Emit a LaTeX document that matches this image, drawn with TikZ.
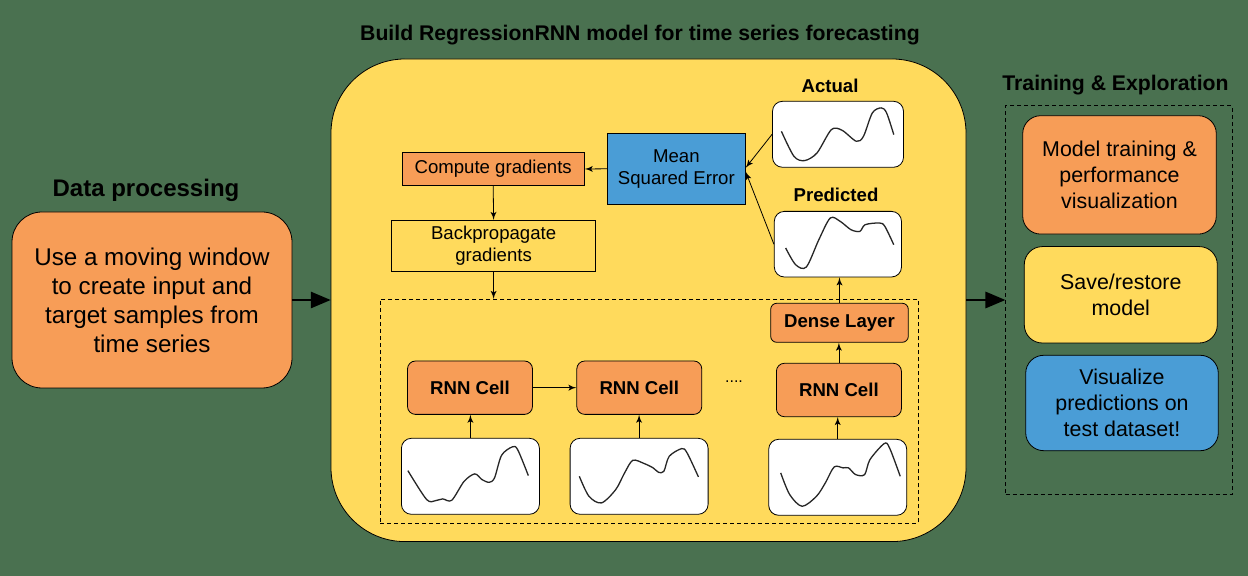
\documentclass[tikz,border=0pt]{standalone}
\usepackage{fontspec}
\setmainfont{Liberation Sans}
\usepackage{tikz}
\usetikzlibrary{positioning}
\usetikzlibrary{shapes.geometric, arrows}
\usetikzlibrary{calc}
\definecolor{bggreen}{HTML}{4A7150}
\definecolor{yellowbox}{HTML}{FFDA5C}
\definecolor{orangebox}{HTML}{F79D57}
\definecolor{bluebox}{HTML}{4A9DD6}
\tikzstyle{arrow}=[->,>=latex',thin]
\tikzstyle{bigarrow}=[->,>=triangle 45,line width=1.3pt]
\tikzstyle{title}=[font=\bfseries\fontsize{10.6}{12}\selectfont]
\tikzstyle{small}=[font=\fontsize{9.3}{11}\selectfont,align=center,inner sep=0pt]
\tikzstyle{smallbold}=[font=\bfseries\fontsize{9.3}{11}\selectfont,inner sep=0pt]
\tikzstyle{bigtext}=[font=\fontsize{10.7}{13}\selectfont,align=center,inner sep=0pt]
\tikzstyle{plotbox}=[draw,fill=white,rounded corners=5pt,thin,inner sep=0pt]
\tikzstyle{dashbox}=[draw,thin,dash pattern=on 2pt off 1.5pt,inner sep=0pt]
\tikzstyle{curve}=[draw=black!85,line width=0.65pt]

\begin{document}
\begin{tikzpicture}[x=0.5pt,y=-0.5pt]
		\useasboundingbox (0,0) rectangle (1248,576);
		\fill[bggreen] (0,0) rectangle (1248,576);
		% data processing
		\node[font=\bfseries\fontsize{12}{14}\selectfont] (tdata) at (146,190) {Data processing};
		\node[draw,thin,fill=orangebox,rounded corners=15pt,minimum width=140pt,minimum height=88pt,
			align=center,font=\fontsize{12.1}{14.5}\selectfont] (data) at (152,300)
			{Use a moving window\\to create input and\\target samples from\\time series};
		% model
		\node[title] (tmain) at (640,35) {Build RegressionRNN model for time series forecasting};
		\node[draw,thin,fill=yellowbox,rounded corners=37pt,minimum width=317.5pt,minimum height=241.3pt] (main) at (648.5,300.3) {};
		\node[dashbox,minimum width=269.1pt,minimum height=112pt] (inner) at (649.1,411.3) {};
		\node[small,draw,fill=orangebox,minimum width=91.1pt,minimum height=16.7pt] (grad) at (493.2,169) {Compute gradients};
		\node[small,draw,fill=bluebox,minimum width=68.9pt,minimum height=35.5pt] (mse) at (676.4,168.8) {Mean\\Squared Error};
		\node[small,draw,fill=yellowbox,minimum width=102.1pt,minimum height=25.5pt] (back) at (493.6,245.8) {Backpropagate\\gradients};
		\node[smallbold] (tact) at (830,86) {Actual};
		\node[plotbox,minimum width=65.5pt,minimum height=33pt] (act) at (838,134.3) {};
		\node[smallbold] (tpred) at (836,195) {Predicted};
		\node[plotbox,minimum width=63.6pt,minimum height=32.8pt] (pred) at (837.9,244.2) {};
		\node[smallbold,draw,fill=orangebox,rounded corners=3pt,minimum width=68.8pt,minimum height=19.5pt] (dense) at (839.5,322.8) {Dense Layer};
		\foreach \n/\x/\y in {1/470/387.7,2/639.3/387.7,3/838.9/390} {
			\node[smallbold,draw,fill=orangebox,rounded corners=4pt,minimum width=62.5pt,minimum height=26.7pt] (cell\n) at (\x,\y) {RNN Cell};}
		\foreach \n/\x/\y in {1/470.4/476.3,2/639.1/476.3,3/837.7/477.3} {
			\node[plotbox,minimum width=69pt,minimum height=38pt] (p\n) at (\x,\y) {};}
		\node[font=\fontsize{8}{9}\selectfont] (dots) at (734,382) {....};
		% curves
		\draw[curve,shift={(act.north west)},xscale=1.07] plot[smooth] coordinates {(8.7,30.4)(20.4,55.4)(30.4,59.7)(42,52)(55.4,28.7)(65.4,29.4)(78.7,40.4)(85.4,35.4)(93.7,12)(102,7)(107,12)(113.7,33.7)};
		\draw[curve,shift={(pred.north west)},xscale=1.07] plot[smooth] coordinates {(11,37)(20.3,53.7)(30.3,56)(42,28.7)(52.7,7)(62,10.4)(72,18.7)(80.3,20.4)(85.3,13.7)(98.7,12)(103.7,15.4)(112,33.7)};
		\draw[curve,shift={(p1.north west)},xscale=1.07] plot[smooth] coordinates {(6.4,32.7)(24,61.7)(32.4,62.7)(39,61)(47.4,62.4)(59,43.4)(69,36)(75.7,41.7)(82.4,44.4)(87.4,40)(94,17.4)(104,9)(109,11.7)(119,37.7)};
		\draw[curve,shift={(p2.north west)},xscale=1.07] plot[smooth] coordinates {(9,38.4)(18,58.4)(29.7,65)(43,51.7)(51.3,35)(59,22.4)(69.7,25.7)(78,30)(83,34.4)(88,33.4)(93,18.4)(104.7,10.7)(109.7,15)(120.3,39)};
		\draw[curve,shift={(p3.north west)},xscale=1.07] plot[smooth] coordinates {(11.6,34)(20,55.7)(31.6,67.4)(45,57.4)(53.3,44)(61.6,28)(70,29)(75,29)(81.6,35.7)(90,35.7)(95,20.7)(108.3,4.7)(113.3,9)(123.3,37.4)};
		% training
		\node[title] (ttrain) at (1115.5,85) {Training \& Exploration};
		\node[dashbox,minimum width=113.2pt,minimum height=194.3pt] (right) at (1118.9,300) {};
		\node[bigtext,draw,fill=orangebox,rounded corners=9pt,minimum width=96.8pt,minimum height=59.2pt] (train) at (1119.5,174.9) {Model training \&\\performance\\visualization};
		\node[bigtext,draw,fill=yellowbox,rounded corners=9pt,minimum width=96.5pt,minimum height=48.2pt] (save) at (1120.8,294.8) {Save/restore\\model};
		\node[bigtext,draw,fill=bluebox,rounded corners=9pt,minimum width=96.3pt,minimum height=47.7pt] (vis) at (1122,403) {Visualize\\predictions on\\test dataset!};
		% arrows
		\draw[bigarrow] (data.east)--(main.west|-data.east);
		\draw[bigarrow] (main.east|-right.west)--(right.west);
		\draw[arrow] (mse.west)--(grad.east);
		\draw[arrow] (grad.south)--(back.north);
		\draw[arrow] (back.south)--(back.south|-inner.north);
		\draw[arrow] (act.west)--($(mse.east)+(0,-1)$);
		\draw[arrow] (pred.west)--($(mse.east)+(0,3)$);
		\draw[arrow] (dense.north)--(pred.south-|dense.north);
		\draw[arrow] (cell3.north)--(cell3.north|-dense.south);
		\draw[arrow] (cell1.east)--(cell2.west);
		\foreach \n in {1,2,3} {
			\draw[arrow] (p\n.north)--(p\n.north|-cell\n.south);}
	\end{tikzpicture}
\end{document}
